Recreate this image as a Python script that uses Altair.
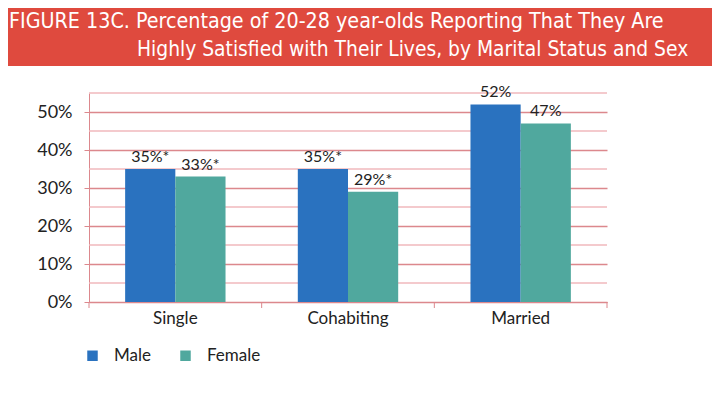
import altair as alt
import pandas as pd

status = ["Single", "Cohabiting", "Married"]
sexes = ["Male", "Female"]
male = [35, 35, 52]
female = [33, 29, 47]
male_labels = ["35%*", "35%*", "52%"]
female_labels = ["33%*", "29%*", "47%"]
major_ticks = [0, 10, 20, 30, 40, 50]
minor_ticks = [5, 15, 25, 35, 45, 55]
title1 = "FIGURE 13C. Percentage of 20-28 year-olds Reporting That They Are"
title2 = "Highly Satisfied with Their Lives, by Marital Status and Sex"

rows = []
for i, s in enumerate(status):
    rows.append({"Status": s, "Sex": "Male", "Value": male[i], "Label": male_labels[i]})
    rows.append({"Status": s, "Sex": "Female", "Value": female[i], "Label": female_labels[i]})
df = pd.DataFrame(rows)

W, H = 518, 209
PL, PT = 81, 85
FONT = "Lato"
TFONT = "DejaVu Sans Condensed, Lato"
MAJOR = "#dc888d"
MINOR = "#f0b9bc"

yscale = alt.Scale(domain=[0, 55], nice=False)

x_enc = alt.X("Status:N", sort=status,
              scale=alt.Scale(paddingInner=0, paddingOuter=0),
              axis=alt.Axis(title=None, labelAngle=0, ticks=False, domainColor=MAJOR,
                            labelFontSize=17, labelColor="#222222", labelFont=FONT,
                            labelPadding=8, grid=False))
xo_enc = alt.XOffset("Sex:N", sort=sexes,
                     scale=alt.Scale(paddingInner=0, paddingOuter=0.72))
y_enc = alt.Y("Value:Q", scale=yscale,
              axis=alt.Axis(title=None, values=major_ticks,
                            labelExpr="datum.value + '%'",
                            labelFontSize=18, labelColor="#222222", labelFont=FONT,
                            labelPadding=12, tickSize=5, tickColor=MAJOR,
                            domainColor=MAJOR, gridColor=MAJOR, gridWidth=1.4))

color_enc = alt.Color("Sex:N", sort=sexes,
                      scale=alt.Scale(domain=sexes, range=["#2a72bf", "#50a89e"]),
                      legend=alt.Legend(title=None, orient="none", direction="horizontal",
                                        legendX=-5, legendY=254, symbolType="square",
                                        symbolSize=110, symbolStrokeWidth=0,
                                        labelFontSize=17, labelFont=FONT, labelColor="#222222",
                                        labelOffset=13, columnPadding=26, padding=0))

minor = alt.Chart(pd.DataFrame({"v": minor_ticks})).mark_rule(color=MINOR, strokeWidth=1.4).encode(
    y=alt.Y("v:Q", scale=yscale), x=alt.value(0), x2=alt.value(W))

base = alt.Chart(df)
bars = base.mark_bar().encode(x=x_enc, xOffset=xo_enc, y=y_enc, color=color_enc)
labels = base.mark_text(baseline="bottom", dy=-4, fontSize=16, font=FONT, color="#222222").encode(
    x=alt.X("Status:N", sort=status), xOffset=alt.XOffset("Sex:N", sort=sexes),
    y="Value:Q", text="Label:N")

ticks = alt.Chart(pd.DataFrame({"Status": status})).mark_rule(color=MAJOR, strokeWidth=1).encode(
    x=alt.X("Status:N", sort=status, bandPosition=0),
    y=alt.value(H), y2=alt.value(H + 6))
end_tick = alt.Chart(pd.DataFrame({"Status": [status[-1]]})).mark_rule(color=MAJOR, strokeWidth=1).encode(
    x=alt.value(W), y=alt.value(H), y2=alt.value(H + 6))

hdr = pd.DataFrame({"t1": [title1], "t2": [title2]})
band = alt.Chart(hdr).mark_rect(color="#df4a3e").encode(
    x=alt.value(-PL), x2=alt.value(704 - PL), y=alt.value(-PT), y2=alt.value(66 - 93))
t1 = alt.Chart(hdr).mark_text(align="left", baseline="alphabetic", color="white",
                              fontSize=21.3, font=TFONT).encode(
    x=alt.value(9 - 89), y=alt.value(28 - 93), text="t1:N")
t2 = alt.Chart(hdr).mark_text(align="left", baseline="alphabetic", color="white",
                              fontSize=20.8, font=TFONT).encode(
    x=alt.value(137 - 89), y=alt.value(56 - 93), text="t2:N")

chart = alt.layer(band, t1, t2, minor, bars, labels, ticks, end_tick).properties(
    width=W, height=H,
    autosize=alt.AutoSizeParams(type="none"),
    padding={"left": PL, "top": PT, "right": 704 - PL - W, "bottom": 389 - PT - H},
    background="white",
).configure_view(stroke=None)

chart.save("out.html", embed_options={"renderer": "svg", "actions": False})
